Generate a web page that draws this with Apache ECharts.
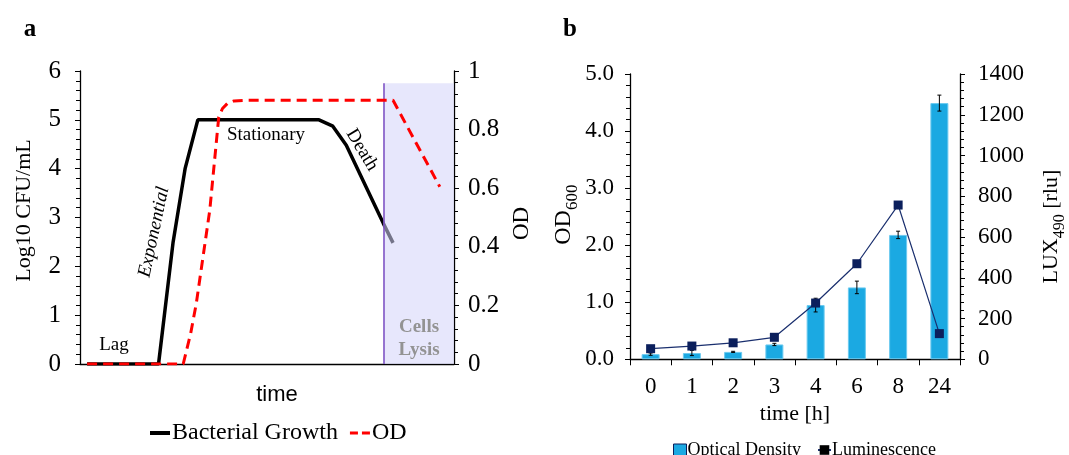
<!DOCTYPE html>
<html>
<head>
<meta charset="utf-8">
<script src="https://cdn.jsdelivr.net/npm/echarts@6/dist/echarts.min.js"></script>
<style>
  html, body { margin: 0; padding: 0; background: #fff; }
  #chart { width: 1069px; height: 455px; }
</style>
</head>
<body>
<div id="chart"></div>
<script>
// panel a: schematic growth curve, x is relative time (0-100)
const growthCurve = [[1.9, 0], [21.0, 0], [24.9, 2.5], [28.1, 4.0], [31.5, 5], [63.9, 5], [67.6, 4.87], [71.2, 4.48], [81.1, 2.88], [83.7, 2.48]];
const odCurve = [[1.9, 0], [27.6, 0], [29.6, 0.105], [31.1, 0.207], [32.9, 0.366], [34.7, 0.525], [35.9, 0.684], [37.1, 0.843], [38.1, 0.872], [39.4, 0.889], [41.2, 0.898], [44.0, 0.9], [83.7, 0.9], [96.2, 0.605]];
const lysisRange = [81.1, 100];
const lysisTop = 5.75;

// panel b: measured values
const hours = ['0', '1', '2', '3', '4', '6', '8', '24'];
const od600 = [0.09, 0.11, 0.13, 0.26, 0.95, 1.26, 2.18, 4.49];
const od600Err = [0.02, 0.045, 0.01, 0.02, 0.12, 0.11, 0.065, 0.14];
const lux490 = [52, 65, 81, 108, 276, 469, 757, 126];

const serif = 'Liberation Serif';
let myChart = echarts.init(document.getElementById('chart'));

const tickStyle = { show: true, inside: false, length: 5, lineStyle: { color: '#000', width: 1 } };
const minorStyle = { show: true, splitNumber: 5, length: 4, lineStyle: { color: '#000', width: 1 } };
const axisLineStyle = { show: true, lineStyle: { color: '#000', width: 1.3 } };

function textEl(text, x, y, font, fill, rotation) {
  return {
    type: 'text', x: x, y: y, rotation: rotation || 0, z: 50,
    style: { text: text, font: font, fill: fill || '#000', align: 'center', verticalAlign: 'middle' }
  };
}

myChart.setOption({
  animation: false,
  textStyle: { fontFamily: serif },
  grid: [
    { left: 80, top: 71, width: 374, height: 293 },
    { left: 630, top: 74, width: 335, height: 285.3 }
  ],
  legend: [
    {
      left: 145, top: 416, itemWidth: 20, itemHeight: 4, itemGap: 12,
      textStyle: { fontFamily: serif, fontSize: 24, color: '#000', padding: [0, 0, 0, -3] },
      data: [
        { name: 'Bacterial Growth', icon: 'rect', itemStyle: { color: '#000' } },
        { name: 'OD', icon: 'path://M0,0h8v3h-8z M12,0h8v3h-8z', itemStyle: { color: '#ff0000' } }
      ]
    },
    {
      left: 668, top: 436, itemWidth: 13, itemHeight: 12, itemGap: 16,
      textStyle: { fontFamily: serif, fontSize: 18, color: '#000', padding: [0, 0, 0, -4] },
      data: [
        { name: 'Optical Density', icon: 'rect', itemStyle: { color: '#1ba9e2', borderColor: '#0b1f5c', borderWidth: 1 } },
        { name: 'Luminescence', itemStyle: { color: '#000' } }
      ]
    }
  ],
  xAxis: [
    {
      gridIndex: 0, type: 'value', min: 0, max: 100,
      axisLine: axisLineStyle, axisTick: { show: false }, axisLabel: { show: false }, splitLine: { show: false },
      name: 'time', nameLocation: 'middle', nameGap: 20,
      nameTextStyle: { fontFamily: 'Liberation Sans', fontSize: 22, color: '#000', padding: [0, 0, 0, 20] }
    },
    {
      gridIndex: 1, type: 'category', data: hours, boundaryGap: true,
      axisLine: axisLineStyle, axisTick: Object.assign({}, tickStyle, { length: 6 }),
      axisLabel: { color: '#000', fontSize: 23, margin: 16 },
      name: 'time [h]', nameLocation: 'middle', nameGap: 44,
      nameTextStyle: { fontSize: 22, color: '#000' }
    }
  ],
  yAxis: [
    {
      gridIndex: 0, type: 'value', min: 0, max: 6, interval: 1,
      axisLine: axisLineStyle, axisTick: tickStyle, minorTick: minorStyle, splitLine: { show: false },
      axisLabel: { color: '#000', fontSize: 25, margin: 19 },
      name: 'Log10 CFU/mL', nameLocation: 'middle', nameGap: 45, nameRotate: 90,
      nameTextStyle: { fontSize: 22, color: '#000', padding: [0, 0, 0, 14] }
    },
    {
      gridIndex: 0, type: 'value', min: 0, max: 1, interval: 0.2, position: 'right',
      axisLine: axisLineStyle, axisTick: tickStyle, minorTick: minorStyle, splitLine: { show: false },
      axisLabel: { color: '#000', fontSize: 25, margin: 14 },
      name: 'OD', nameLocation: 'middle', nameGap: 56, nameRotate: 90,
      nameTextStyle: { fontSize: 23, color: '#000', padding: [0, 12, 0, 0] }
    },
    {
      gridIndex: 1, type: 'value', min: 0, max: 5, interval: 1,
      axisLine: axisLineStyle, axisTick: tickStyle, minorTick: minorStyle, splitLine: { show: false },
      axisLabel: { color: '#000', fontSize: 23, margin: 16, formatter: v => v.toFixed(1) },
      name: '{m|OD}{s|600}', nameLocation: 'middle', nameGap: 38, nameRotate: 90,
      nameTextStyle: {
        color: '#000', padding: [0, 0, 0, 4],
        rich: {
          m: { fontFamily: serif, fontSize: 24, color: '#000', verticalAlign: 'bottom', padding: [0, 0, 6, 0] },
          s: { fontFamily: serif, fontSize: 17, color: '#000', verticalAlign: 'bottom' }
        }
      }
    },
    {
      gridIndex: 1, type: 'value', min: 0, max: 1400, interval: 200, position: 'right',
      axisLine: axisLineStyle, axisTick: tickStyle, minorTick: minorStyle, splitLine: { show: false },
      axisLabel: { color: '#000', fontSize: 23, margin: 18, formatter: v => String(v) },
      name: '{m|LUX}{s|490}{m| [rlu]}', nameLocation: 'middle', nameGap: 80, nameRotate: 90,
      nameTextStyle: {
        color: '#000', padding: [0, 20, 0, 0],
        rich: {
          m: { fontFamily: serif, fontSize: 22, color: '#000', verticalAlign: 'bottom', padding: [0, 0, 6, 0] },
          s: { fontFamily: serif, fontSize: 16, color: '#000', verticalAlign: 'bottom' }
        }
      }
    }
  ],
  series: [
    {
      name: 'Bacterial Growth', type: 'line', xAxisIndex: 0, yAxisIndex: 0, z: 2,
      data: growthCurve, symbol: 'none',
      lineStyle: { color: '#000', width: 3.5 }, itemStyle: { color: '#000' }
    },
    {
      name: 'lysis', type: 'line', xAxisIndex: 0, yAxisIndex: 0, z: 3, data: [],
      markArea: {
        silent: true, z: 3,
        itemStyle: { color: 'rgba(212,212,250,0.55)' },
        data: [[{ coord: [lysisRange[0], 0] }, { coord: [lysisRange[1], lysisTop] }]]
      },
      markLine: {
        silent: true, symbol: 'none', label: { show: false }, z: 4,
        lineStyle: { color: '#7a4cc2', width: 1.5, type: 'solid' },
        data: [[{ coord: [lysisRange[0], 0] }, { coord: [lysisRange[0], lysisTop] }]]
      }
    },
    {
      name: 'OD', type: 'line', xAxisIndex: 0, yAxisIndex: 1, z: 5,
      data: odCurve, symbol: 'none',
      lineStyle: { color: '#ff0000', width: 3, type: [10, 6] }, itemStyle: { color: '#ff0000' }
    },
    {
      name: 'Optical Density', type: 'bar', xAxisIndex: 1, yAxisIndex: 2, z: 2,
      data: od600, barWidth: 18,
      itemStyle: { color: '#1ba9e2', borderColor: '#6ccaf0', borderWidth: 1 }
    },
    {
      name: 'odErr', type: 'custom', xAxisIndex: 1, yAxisIndex: 2, z: 3,
      data: od600.map((v, i) => [i, v - od600Err[i], v + od600Err[i]]),
      renderItem: function (params, api) {
        const top = api.coord([api.value(0), api.value(2)]);
        const bot = api.coord([api.value(0), api.value(1)]);
        const st = { stroke: '#000', lineWidth: 1 };
        return {
          type: 'group',
          children: [
            { type: 'line', shape: { x1: top[0], y1: top[1], x2: bot[0], y2: bot[1] }, style: st },
            { type: 'line', shape: { x1: top[0] - 2, y1: top[1], x2: top[0] + 2, y2: top[1] }, style: st },
            { type: 'line', shape: { x1: bot[0] - 2, y1: bot[1], x2: bot[0] + 2, y2: bot[1] }, style: st }
          ]
        };
      }
    },
    {
      name: 'Luminescence', type: 'line', xAxisIndex: 1, yAxisIndex: 3, z: 4,
      data: lux490, symbol: 'rect', symbolSize: 9,
      lineStyle: { color: '#1a2f6e', width: 1.2 }, itemStyle: { color: '#0b1f5c' }
    }
  ],
  graphic: [
    textEl('a', 30, 30, 'bold 25px "Liberation Serif"'),
    textEl('b', 570, 30, 'bold 25px "Liberation Serif"'),
    textEl('Lag', 114, 345, '19px "Liberation Serif"'),
    textEl('Exponential', 154, 232, 'italic 19px "Liberation Serif"', '#000', 1.36),
    textEl('Stationary', 266, 135, '19px "Liberation Serif"'),
    textEl('Death', 362, 150, '19px "Liberation Serif"', '#000', -1.03),
    textEl('Cells', 419, 327, 'bold 19px "Liberation Serif"', '#939393'),
    textEl('Lysis', 419, 350, 'bold 19px "Liberation Serif"', '#939393')
  ]
});
</script>
</body>
</html>
